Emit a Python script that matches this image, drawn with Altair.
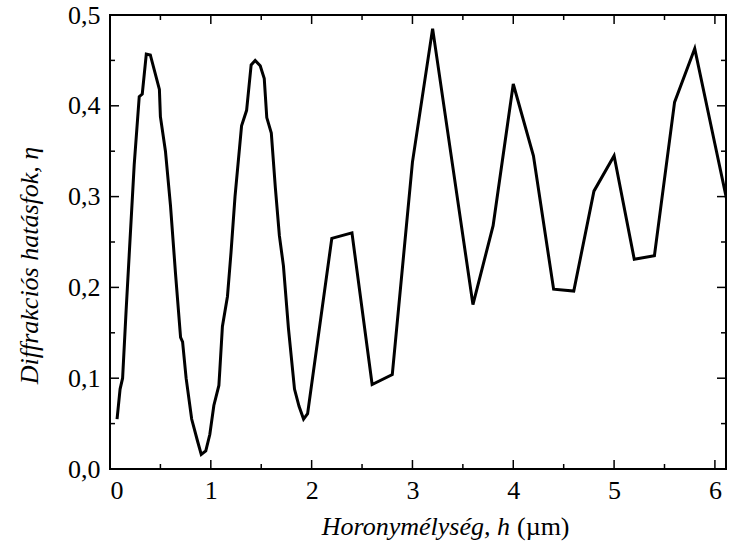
import altair as alt
import pandas as pd

# depth h (µm) and diffraction efficiency eta
h_vals = [0.07, 0.10, 0.125, 0.16, 0.24, 0.29, 0.32, 0.36, 0.40, 0.49, 0.50, 0.55,
          0.60, 0.65, 0.70, 0.72, 0.755, 0.81, 0.87, 0.905, 0.95, 0.99, 1.03, 1.08,
          1.09, 1.115, 1.165, 1.20, 1.24, 1.305, 1.355, 1.40, 1.44, 1.49, 1.53,
          1.555, 1.60, 1.64, 1.68, 1.72, 1.77, 1.83, 1.875, 1.92, 1.96,
          2.2, 2.4, 2.6, 2.8, 3.0, 3.2, 3.4, 3.6, 3.8, 4.0, 4.2, 4.4, 4.6, 4.8,
          5.0, 5.2, 5.4, 5.6, 5.8, 6.0, 6.2]
eta_vals = [0.055, 0.088, 0.10, 0.175, 0.335, 0.41, 0.413, 0.457, 0.456, 0.418, 0.388, 0.35,
            0.29, 0.215, 0.145, 0.14, 0.10, 0.055, 0.03, 0.016, 0.02, 0.038, 0.07, 0.092,
            0.11, 0.157, 0.19, 0.238, 0.30, 0.378, 0.395, 0.445, 0.45, 0.444, 0.43,
            0.387, 0.37, 0.31, 0.257, 0.224, 0.155, 0.088, 0.069, 0.055, 0.061,
            0.254, 0.26, 0.093, 0.104, 0.338, 0.485, 0.333, 0.181, 0.268, 0.424, 0.345,
            0.198, 0.196, 0.306, 0.345, 0.231, 0.235, 0.404, 0.463, 0.358, 0.253]

x_major = [0, 1, 2, 3, 4, 5, 6]
x_minor = [0.5, 1.5, 2.5, 3.5, 4.5, 5.5]
y_major = [0.0, 0.1, 0.2, 0.3, 0.4, 0.5]
y_minor = [0.05, 0.15, 0.25, 0.35, 0.45]

W, H = 616, 454
FONT = "Liberation Serif, Times New Roman, serif"
FS = 26

df = pd.DataFrame({"h": h_vals, "eta": eta_vals})
xscale = alt.Scale(domain=[0, 6.11], nice=False, zero=False)
yscale = alt.Scale(domain=[0, 0.5], nice=False)

line = alt.Chart(df).mark_line(color="black", strokeWidth=3, clip=True).encode(
    x=alt.X("h:Q", scale=xscale,
            axis=alt.Axis(values=x_major, format="d", title=None, domain=False,
                          ticks=False, tickSize=0, grid=False, labelPadding=8,
                          labelFont=FONT, labelFontSize=FS, labelColor="black")),
    y=alt.Y("eta:Q", scale=yscale,
            axis=alt.Axis(values=y_major,
                          labelExpr="replace(format(datum.value, '.1f'), '.', ',')",
                          title="Diffrakciós hatásfok, η", domain=False, ticks=False,
                          tickSize=0, grid=False, labelPadding=10,
                          labelFont=FONT, labelFontSize=FS, labelColor="black",
                          titleFont=FONT, titleFontSize=FS, titleFontStyle="italic",
                          titleFontWeight="normal", titleColor="black", titlePadding=25,
                          titleY=250)),
)

def xticks(vals, length):
    d = pd.DataFrame({"v": vals})
    bottom = alt.Chart(d).mark_rule(color="black", strokeWidth=1.5).encode(
        x=alt.X("v:Q", scale=xscale), y=alt.value(H), y2=alt.value(H - length))
    top = alt.Chart(d).mark_rule(color="black", strokeWidth=1.5).encode(
        x=alt.X("v:Q", scale=xscale), y=alt.value(0), y2=alt.value(length))
    return [bottom, top]

def yticks(vals, length):
    d = pd.DataFrame({"v": vals})
    left = alt.Chart(d).mark_rule(color="black", strokeWidth=1.5).encode(
        y=alt.Y("v:Q", scale=yscale), x=alt.value(0), x2=alt.value(length))
    right = alt.Chart(d).mark_rule(color="black", strokeWidth=1.5).encode(
        y=alt.Y("v:Q", scale=yscale), x=alt.value(W), x2=alt.value(W - length))
    return [left, right]

ticks = xticks(x_major, 9) + xticks(x_minor, 5) + yticks(y_major, 9) + yticks(y_minor, 5)

title_src = pd.DataFrame({"t": ["Horonymélység, h"]})
title_it = alt.Chart(title_src).mark_text(
    font=FONT, fontSize=FS, fontStyle="italic", align="right", baseline="alphabetic",
    color="black").encode(text="t:N", x=alt.value(400), y=alt.value(H + 66))
unit_src = pd.DataFrame({"t": ["(µm)"]})
title_unit = alt.Chart(unit_src).mark_text(
    font=FONT, fontSize=FS, align="left", baseline="alphabetic",
    color="black").encode(text="t:N", x=alt.value(407), y=alt.value(H + 66))

chart = alt.layer(line, *ticks, title_it, title_unit).properties(
    width=W, height=H,
    autosize=alt.AutoSizeParams(type="none"),
    padding={"left": 110, "top": 15, "right": 4, "bottom": 81},
).configure_view(stroke="black", strokeWidth=2)

chart.save("out.html", embed_options={"renderer": "svg", "actions": False})
